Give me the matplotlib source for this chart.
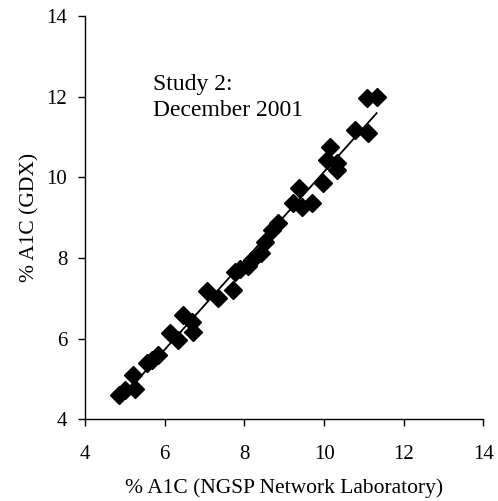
import numpy as np
import matplotlib
matplotlib.use("Agg")
import matplotlib.pyplot as plt

ngsp = [4.85, 5.0, 5.25, 5.2, 5.55, 5.67, 5.84, 6.13, 6.34, 6.47, 6.68, 6.72,
        7.05, 7.35, 7.72, 7.77, 7.9, 8.1, 8.18, 8.43, 8.52, 8.69, 8.85,
        9.23, 9.36, 9.44, 9.69, 9.98, 10.07, 10.15, 10.32, 10.32, 10.78,
        11.11, 11.07, 11.32]
gdx = [4.6, 4.72, 4.74, 5.1, 5.39, 5.47, 5.6, 6.13, 5.97, 6.59, 6.42, 6.17,
       7.17, 7.0, 7.2, 7.66, 7.74, 7.79, 7.95, 8.12, 8.4, 8.69, 8.86,
       9.36, 9.73, 9.27, 9.36, 9.85, 10.43, 10.76, 10.35, 10.18, 11.17,
       11.09, 11.96, 12.0]
ticks = [4, 6, 8, 10, 12, 14]

plt.rcParams['font.family'] = ['Liberation Serif', 'DejaVu Serif']

fig = plt.figure(figsize=(4.98, 5.01), dpi=100)
ax = fig.add_axes([0.1707, 0.163, 0.8, 0.805])

x = np.array(ngsp)
y = np.array(gdx)
ax.plot(x, y, linestyle='none', marker='D', markersize=9, color='black')
m, b = np.polyfit(x, y, 1)
xl = np.array([x.min(), x.max()])
ax.plot(xl, m * xl + b, color='black', linewidth=1.3)

ax.set_xlim(4, 14)
ax.set_ylim(4, 14)
ax.set_xticks(ticks)
ax.set_yticks(ticks)
ax.tick_params(direction='out', length=4.8, width=1, labelsize=15)
ax.tick_params(axis='x', pad=14)
ax.tick_params(axis='y', pad=8)
for s in ['top', 'right']:
    ax.spines[s].set_visible(False)
for s in ['left', 'bottom']:
    ax.spines[s].set_linewidth(1)

ax.set_xlabel('% A1C (NGSP Network Laboratory)', fontsize=15.5, labelpad=10)
ax.set_ylabel('% A1C (GDX)', fontsize=15.5, labelpad=5)
ax.text(0.17, 0.857, 'Study 2:\nDecember 2001', transform=ax.transAxes,
        fontsize=17, va='top', ha='left', linespacing=1.3)

fig.savefig('out.png', dpi=100)
